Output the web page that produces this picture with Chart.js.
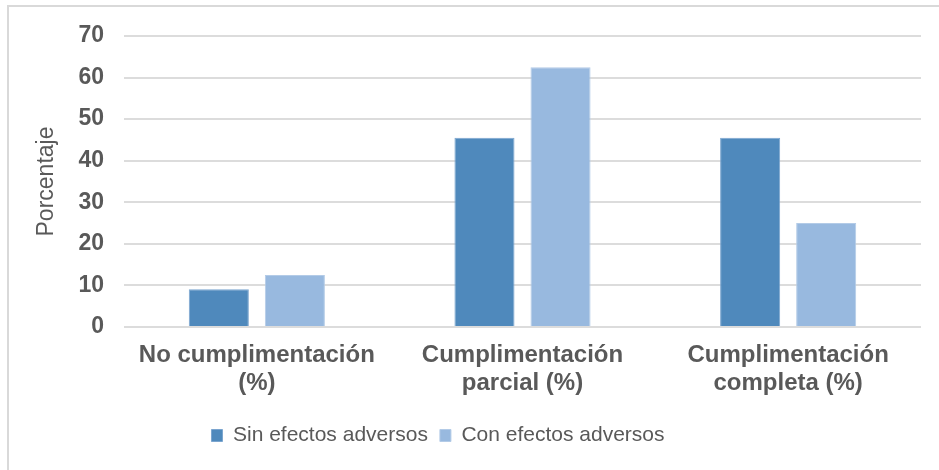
<!DOCTYPE html>
<html>
<head>
<meta charset="utf-8">
<script src="https://cdn.jsdelivr.net/npm/chart.js@4"></script>
<style>
    html, body { margin: 0; padding: 0; background: #fff; }
    #wrap { width: 939px; height: 470px; }
</style>
</head>
<body>
<div id="wrap"><canvas id="chart"></canvas></div>
<script>
const categories = [
    ['No cumplimentación', '(%)'],
    ['Cumplimentación', 'parcial (%)'],
    ['Cumplimentación', 'completa (%)']
];
const seriesNames = ['Sin efectos adversos', 'Con efectos adversos'];
const sinEfectos = [9.1, 45.5, 45.5];
const conEfectos = [12.5, 62.5, 25];
const yTicks = [0, 10, 20, 30, 40, 50, 60, 70];

const textGray = '#595959';
const fontFamily = '"Liberation Sans", Arial, sans-serif';

// light frame on top and left, like the source picture
const framePlugin = {
    id: 'frame',
    afterLayout(chart) {
        // legend sits a bit left of centre in the original
        chart.legend.left -= 27;
        chart.legend.right -= 27;
    },
    beforeDraw(chart) {
        const ctx = chart.ctx;
        ctx.save();
        ctx.strokeStyle = '#d9d9d9';
        ctx.lineWidth = 2;
        ctx.beginPath();
        ctx.moveTo(8, 470);
        ctx.lineTo(8, 6);
        ctx.lineTo(939, 6);
        ctx.stroke();
        ctx.restore();
    }
};

new Chart(document.getElementById('chart'), {
    type: 'bar',
    data: {
        labels: categories,
        datasets: [{
            label: seriesNames[0],
            data: sinEfectos,
            backgroundColor: '#4f89bc',
            borderColor: '#7ba5cf',
            borderWidth: 1,
            categoryPercentage: 0.5725,
            barPercentage: 0.79
        }, {
            label: seriesNames[1],
            data: conEfectos,
            backgroundColor: '#98b9df',
            borderColor: '#b3cbe7',
            borderWidth: 1,
            categoryPercentage: 0.5725,
            barPercentage: 0.79
        }]
    },
    options: {
        responsive: true,
        maintainAspectRatio: false,
        animation: false,
        layout: {
            padding: { top: 36, left: 9, right: 18, bottom: 14 }
        },
        plugins: {
            legend: {
                position: 'bottom',
                labels: {
                    color: textGray,
                    boxWidth: 11,
                    boxHeight: 12,
                    padding: 12,
                    font: { family: fontFamily, size: 21 }
                }
            },
            tooltip: { enabled: false }
        },
        scales: {
            x: {
                grid: { display: false, drawTicks: false },
                border: { display: false },
                ticks: {
                    color: textGray,
                    padding: 14,
                    maxRotation: 0,
                    font: { family: fontFamily, size: 24, weight: 'bold', lineHeight: 1.17 }
                },
                afterFit(scale) { scale.height = 86; }
            },
            y: {
                min: 0,
                max: 70,
                afterBuildTicks(scale) {
                    scale.ticks = yTicks.map(v => ({ value: v }));
                },
                grid: { color: '#dcdcdc', lineWidth: 2, drawTicks: false },
                border: { display: false },
                ticks: {
                    color: textGray,
                    padding: 20,
                    font: { family: fontFamily, size: 23, weight: 'bold' }
                },
                title: {
                    display: true,
                    text: 'Porcentaje',
                    color: textGray,
                    padding: { top: 24, bottom: 0 },
                    font: { family: fontFamily, size: 23 }
                },
                afterFit(scale) { scale.width = 115; }
            }
        }
    },
    plugins: [framePlugin]
});
</script>
</body>
</html>
